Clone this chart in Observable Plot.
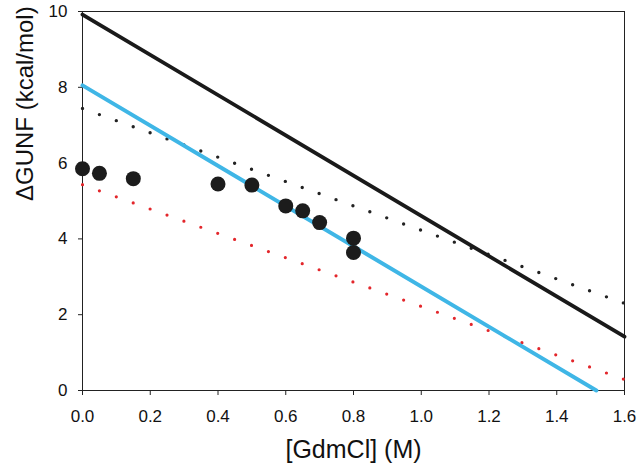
<!DOCTYPE html>
<html>
<head>
<meta charset="utf-8">
<script src="https://cdn.jsdelivr.net/npm/d3@7"></script>
<script src="https://cdn.jsdelivr.net/npm/@observablehq/plot@0.6"></script>
<style>
  html, body { margin: 0; padding: 0; background: #fff; }
</style>
</head>
<body>
<div id="chart"></div>
<script>
// Measured points
const gdmcl = [0, 0.05, 0.15, 0.4, 0.5, 0.6, 0.65, 0.7, 0.8, 0.8];
const dGunf = [5.85, 5.73, 5.59, 5.45, 5.42, 4.87, 4.74, 4.43, 4.02, 3.64];

// Solid black line
const blackX = [0, 1.6];
const blackY = [9.92, 1.42];
// Solid blue line
const blueX = [0, 1.517];
const blueY = [8.05, 0];
// Dotted black line
const dotBlackX = [0, 1.6];
const dotBlackY = [7.44, 2.30];
// Dotted red line
const dotRedX = [0, 1.6];
const dotRedY = [5.43, 0.29];

const xTicks = [0, 0.2, 0.4, 0.6, 0.8, 1.0, 1.2, 1.4, 1.6];
const yTicks = [0, 2, 4, 6, 8, 10];

const pts = gdmcl.map((x, i) => ({x, y: dGunf[i]}));
const toRows = (xs, ys) => xs.map((x, i) => ({x, y: ys[i]}));

const chart = Plot.plot({
  width: 640,
  height: 469,
  marginLeft: 82,
  marginRight: 16,
  marginTop: 11,
  marginBottom: 79,
  style: {fontFamily: "'Liberation Sans', Arial, sans-serif", fontSize: "17px", background: "#fff", color: "#111"},
  x: {domain: [0, 1.6]},
  y: {domain: [0, 10]},
  marks: [
    Plot.frame({stroke: "#222", strokeWidth: 1}),
    Plot.axisX({ticks: xTicks, tickFormat: d => d.toFixed(1), tickSize: 5, tickPadding: 14, label: null, stroke: "#222"}),
    Plot.axisY({ticks: yTicks, tickFormat: d => String(d), tickSize: 4, tickPadding: 11, label: null, stroke: "#222"}),
    Plot.line(toRows(dotBlackX, dotBlackY), {x: "x", y: "y", stroke: "#222", strokeWidth: 3.4, strokeDasharray: "0,17.96", strokeLinecap: "round"}),
    Plot.line(toRows(dotRedX, dotRedY), {x: "x", y: "y", stroke: "#e3262b", strokeWidth: 3.2, strokeDasharray: "0,17.96", strokeLinecap: "round"}),
    Plot.line(toRows(blackX, blackY), {x: "x", y: "y", stroke: "#1a1a1a", strokeWidth: 3.8}),
    Plot.line(toRows(blueX, blueY), {x: "x", y: "y", stroke: "#3fb6e6", strokeWidth: 4}),
    Plot.dot(pts, {x: "x", y: "y", r: 7.5, fill: "#1c1c1c", stroke: "none"}),
    Plot.text(["[GdmCl] (M)"], {frameAnchor: "bottom", dy: 67, fontSize: 25, fill: "#111"}),
    Plot.text(["ΔGUNF (kcal/mol)"], {frameAnchor: "left", dx: -57, rotate: -90, fontSize: 24, fill: "#111"})
  ]
});
document.getElementById("chart").appendChild(chart);
</script>
</body>
</html>
